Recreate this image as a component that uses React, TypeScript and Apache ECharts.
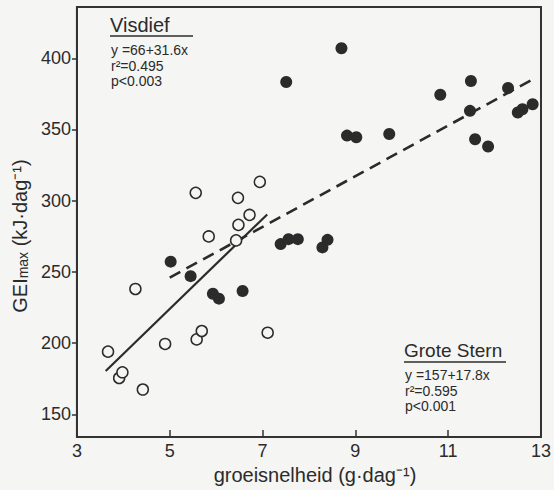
import React, { useEffect, useRef } from "react";
import * as echarts from "echarts";

// Visdief (open circles)
const visdiefX = [3.67, 3.91, 3.98, 4.26, 4.42, 4.9, 5.56, 5.58, 5.69, 5.84, 6.47, 6.48, 6.43, 6.72, 6.94, 7.11];
const visdiefY = [194, 175.5, 179.5, 238, 167.4, 199.4, 305.5, 202.6, 208.5, 274.9, 302, 283, 272.1, 290, 313.2, 207.3];

// Grote Stern (filled circles)
const groteX = [5.02, 5.45, 5.93, 6.06, 6.57, 7.51, 8.7, 7.39, 7.56, 7.76, 8.29, 8.4, 8.82, 9.02, 9.73, 10.83, 11.49, 11.47, 11.58, 11.86, 12.29, 12.5, 12.6, 12.82];
const groteY = [257.2, 247, 234.7, 231.2, 236.6, 383.3, 407, 269.5, 273, 273, 267.2, 272.5, 345.7, 344.5, 346.8, 374.4, 384, 363.1, 343.1, 338, 379.1, 361.9, 364.2, 367.7];

// Regression fits: [intercept, slope] and x range
const visdiefFit = [66, 31.6];
const visdiefRange = [3.62, 7.1];
const groteFit = [157, 17.8];
const groteRange = [5.0, 12.87];

const xTickLabels = [3, 5, 7, 9, 11, 13];
const xTickMarks = [5, 7, 9, 11];
const yTickLabels = [150, 200, 250, 300, 350, 400];

const visdiefText = ["y =66+31.6x", "r²=0.495", "p<0.003"];
const groteText = ["y =157+17.8x", "r²=0.595", "p<0.001"];

const FONT = "'Liberation Sans', Arial, Helvetica, sans-serif";
const INK = "#2b2b2b";
const BG = "#f5f5f3";

function fitLine(fit: number[], range: number[]) {
  return range.map((x) => [x, fit[0] + fit[1] * x]);
}

export default function App() {
  const ref = useRef<HTMLDivElement>(null);
  useEffect(() => {
    if (!ref.current) return;
    const chart = echarts.init(ref.current, null, { renderer: "svg" });
    const eqLines = (lines: string[], x: number, y0: number, dy: number) =>
      lines.map((t, i) => ({
        type: "text",
        left: x,
        top: y0 + i * dy,
        style: { text: t, fill: INK, font: `14px ${FONT}` },
      }));
    chart.setOption({
      animation: false,
      backgroundColor: BG,
      grid: {
        left: 75,
        right: 8,
        top: 7,
        bottom: 49,
        show: true,
        borderColor: "#333",
        borderWidth: 2,
        backgroundColor: "transparent",
      },
      xAxis: {
        type: "value",
        min: 3,
        max: 13,
        name: "groeisnelheid (g·dag⁻¹)",
        nameLocation: "middle",
        nameGap: 20,
        nameTextStyle: { fontFamily: FONT, fontSize: 20, color: INK, padding: [0, 0, 0, 12] },
        axisLine: { lineStyle: { color: "#333", width: 2 } },
        axisTick: { show: true, inside: true, length: 7, customValues: xTickMarks, lineStyle: { color: "#333", width: 1.5 } },
        axisLabel: { customValues: xTickLabels, margin: 5, fontFamily: FONT, fontSize: 18, color: INK },
        splitLine: { show: false },
      },
      yAxis: {
        type: "value",
        min: 134,
        max: 436,
        name: "GEI{sub|max} (kJ·dag⁻¹)",
        nameLocation: "middle",
        nameGap: 44,
        nameRotate: 90,
        nameTextStyle: {
          fontFamily: FONT,
          fontSize: 20,
          color: INK,
          padding: [0, 28, 0, 0],
          rich: {
            sub: { fontFamily: FONT, fontSize: 14, color: INK, verticalAlign: "bottom", lineHeight: 14, padding: [8, 0, 0, 0] },
          },
        },
        axisLine: { show: true, lineStyle: { color: "#333", width: 2 } },
        axisTick: { show: true, inside: false, length: 5, customValues: yTickLabels, lineStyle: { color: "#333", width: 1.5 } },
        axisLabel: { customValues: yTickLabels, margin: 6, fontFamily: FONT, fontSize: 18, color: INK },
        splitLine: { show: false },
      },
      series: [
        {
          name: "Visdief fit",
          type: "line",
          data: fitLine(visdiefFit, visdiefRange),
          symbol: "none",
          lineStyle: { color: INK, width: 2.2, type: "solid" },
          z: 1,
        },
        {
          name: "Grote Stern fit",
          type: "line",
          data: fitLine(groteFit, groteRange),
          symbol: "none",
          lineStyle: { color: INK, width: 2.6, type: [12, 7] },
          z: 1,
        },
        {
          name: "Visdief",
          type: "scatter",
          data: visdiefX.map((x, i) => [x, visdiefY[i]]),
          symbol: "circle",
          symbolSize: 11,
          itemStyle: { color: BG, borderColor: INK, borderWidth: 1.5, opacity: 1 },
          z: 3,
        },
        {
          name: "Grote Stern",
          type: "scatter",
          data: groteX.map((x, i) => [x, groteY[i]]),
          symbol: "circle",
          symbolSize: 12,
          itemStyle: { color: INK, opacity: 1 },
          z: 3,
        },
      ],
      graphic: [
        { type: "text", left: 110, top: 15, style: { text: "Visdief", fill: INK, font: `20px ${FONT}` } },
        { type: "line", shape: { x1: 110, y1: 36, x2: 193, y2: 36 }, style: { stroke: INK, lineWidth: 1.5 } },
        ...eqLines(visdiefText, 111, 43, 15.5),
        { type: "text", left: 404, top: 341, style: { text: "Grote Stern", fill: INK, font: `19px ${FONT}` } },
        { type: "line", shape: { x1: 404, y1: 362, x2: 506, y2: 362 }, style: { stroke: INK, lineWidth: 1.5 } },
        ...eqLines(groteText, 405, 368, 15.5),
      ],
    });
    return () => chart.dispose();
  }, []);
  return <div ref={ref} style={{ position: "fixed", left: 0, top: 0, width: 554, height: 490 }} />;
}
